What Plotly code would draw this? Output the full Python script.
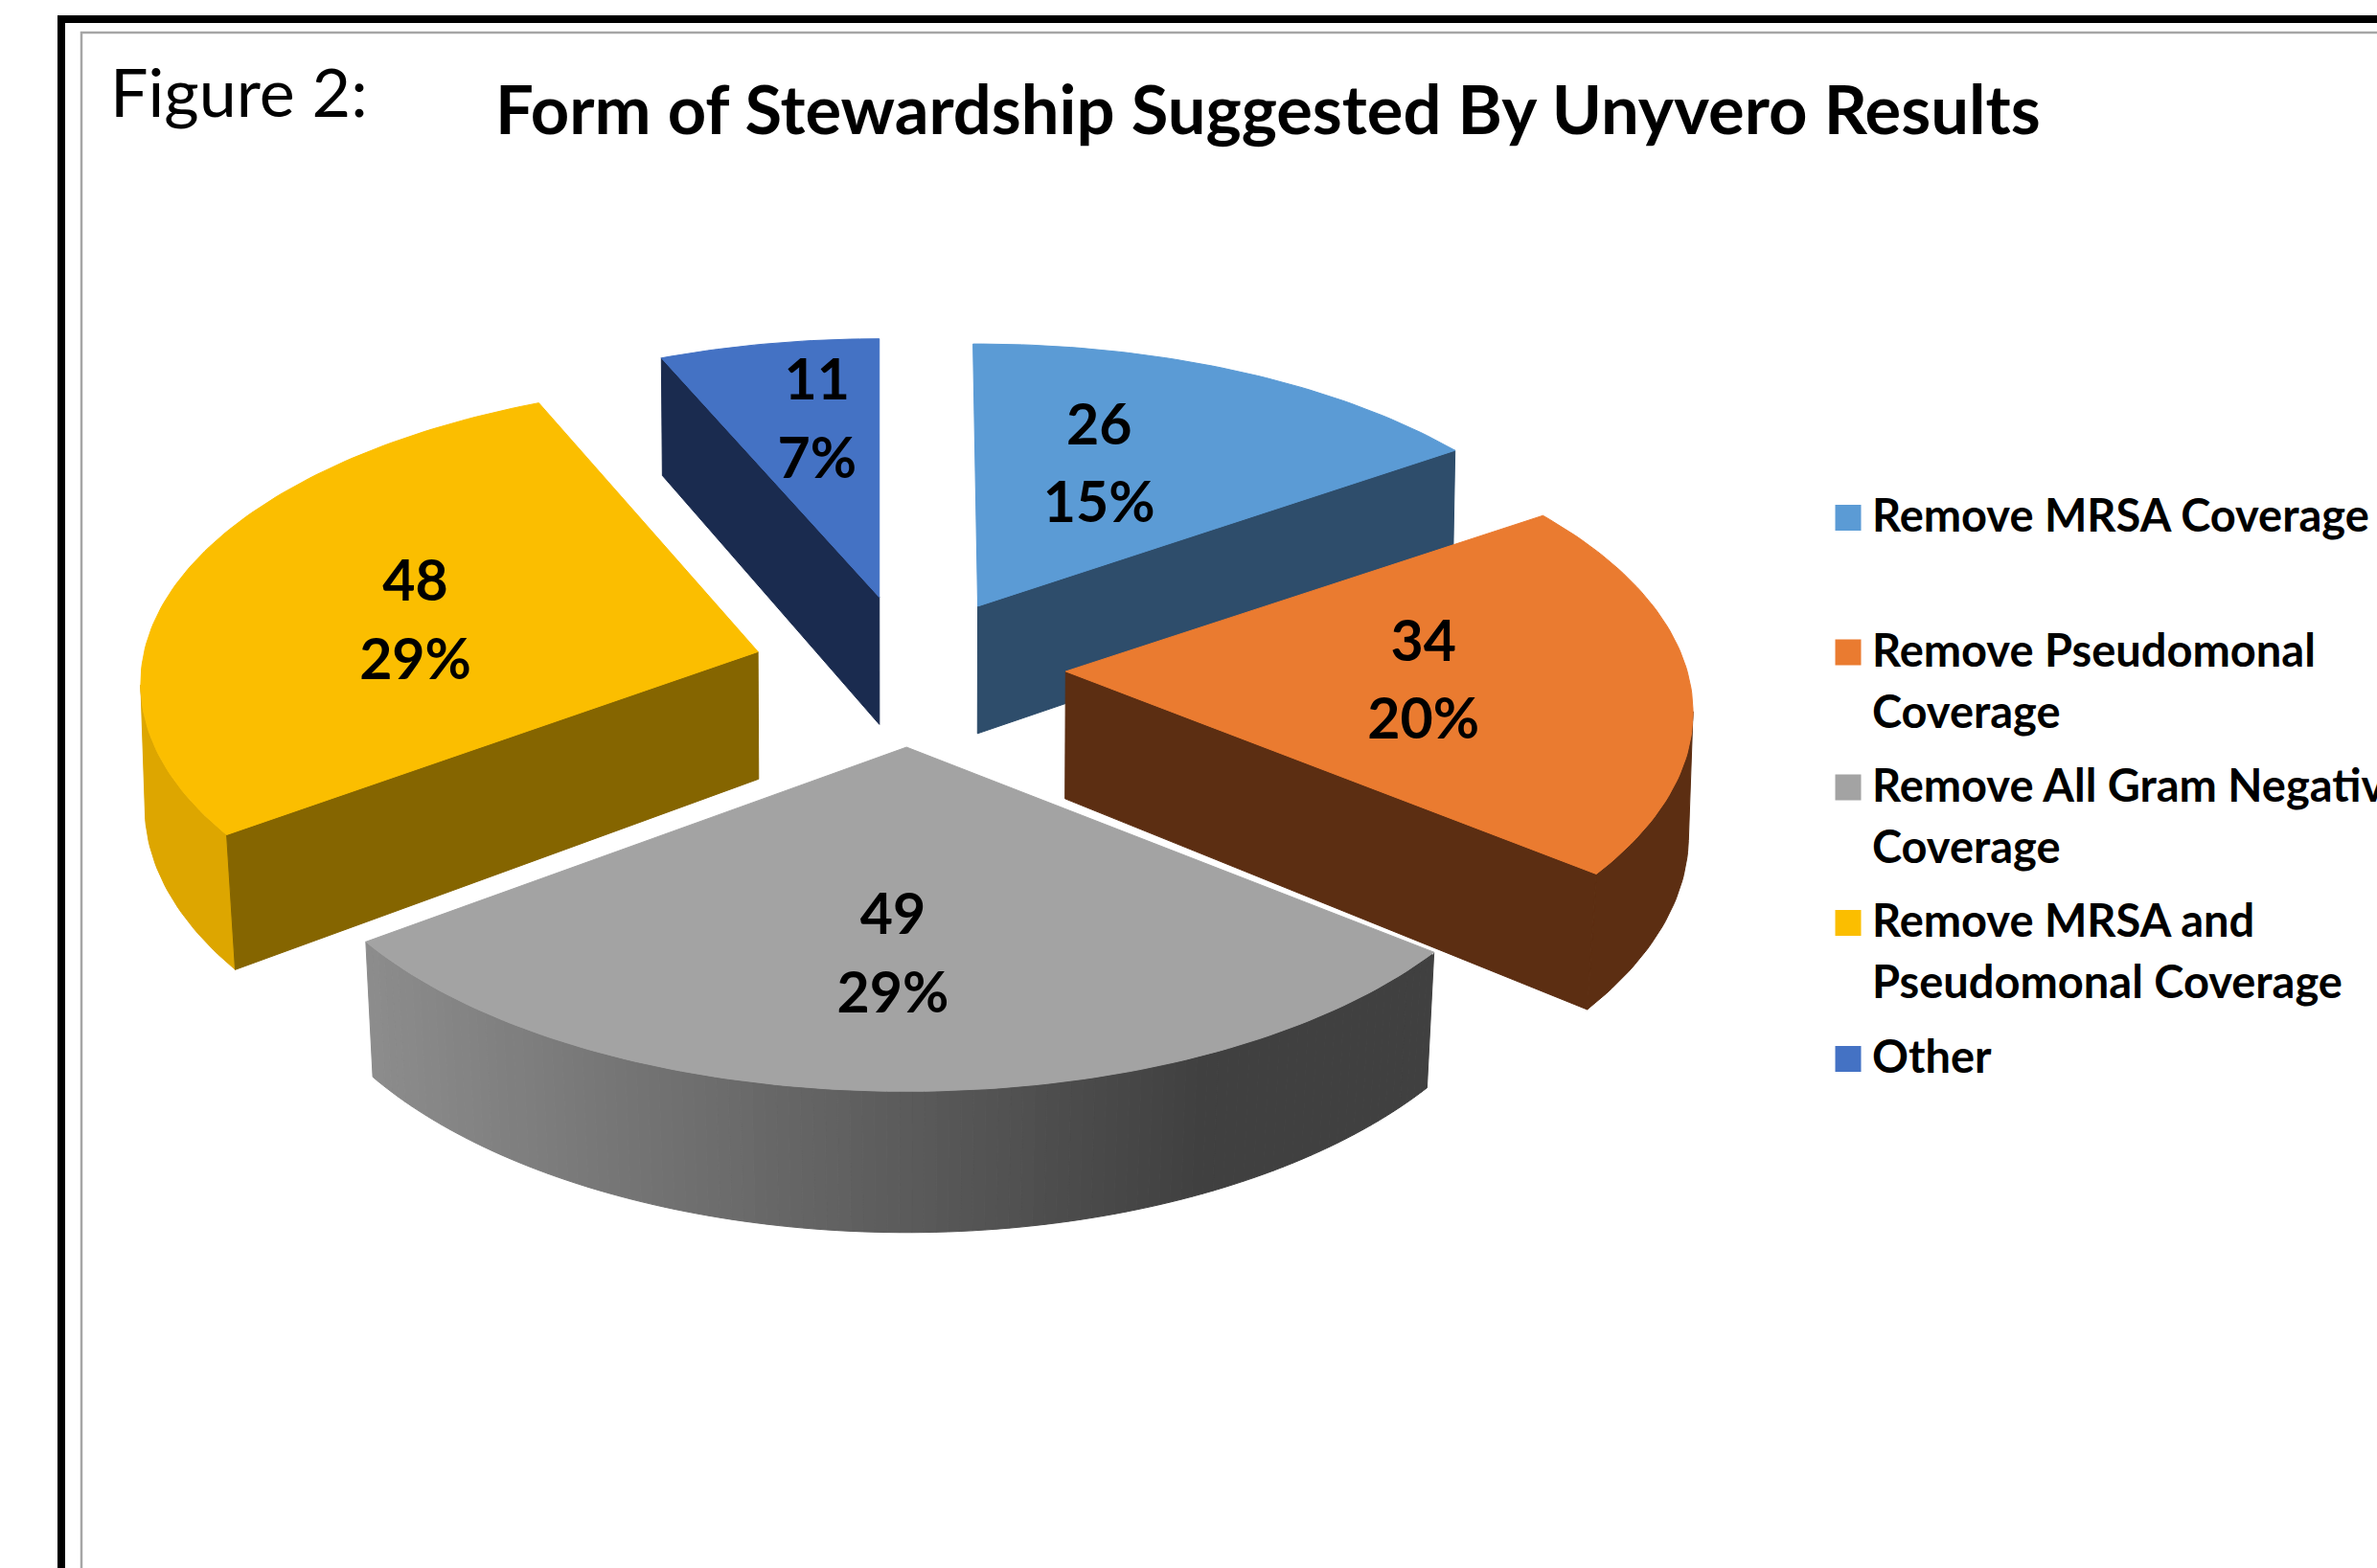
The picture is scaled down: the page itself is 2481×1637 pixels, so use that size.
import math
import plotly.graph_objects as go

# ---- data ----
categories = ["Remove MRSA Coverage", "Remove Pseudomonal Coverage", "Remove All Gram Negative Coverage",
              "Remove MRSA and Pseudomonal Coverage", "Other"]
values = [26, 34, 49, 48, 11]
legend_lines = [["Remove MRSA Coverage"], ["Remove Pseudomonal", "Coverage"],
                ["Remove All Gram Negative", "Coverage"], ["Remove MRSA and", "Pseudomonal Coverage"], ["Other"]]
title_text = "Form of Stewardship Suggested By Unyvero Results"
figure_label = "Figure 2:"

# ---- styles ----
top_colors = ["#5B9BD5", "#EA7B30", "#A3A3A3", "#FBBE00", "#4472C4"]
cut_colors = ["#2E4D6B", "#5C2E12", "#404040", "#856500", "#1A2B4F"]
rim_colors = ["#2E4D6B", "#5C2E12", None, "#DDA600", "#1A2B4F"]

# ---- pie geometry (in 1568-wide reference units) ----
S = 2481 / 1568
CX, CY = 600.0, 441.0
A, B, K, DEPTH = 410.0, 196.4, 0.135, 84.0
explode = [(45, -41), (103, 2), (-2, 52), (-100, -11), (-20, -47)]
# small drawing corrections of each slice, (at its first edge, at its last edge)
slice_turn = [(-0.5, 0), (0, 0), (0.5, -0.5), (0.7, 0.7), (0, 0)]
slice_size = [(1, 1), (1, 1), (1, 1), (0.97, 1.02), (0.985, 0.985)]
label_pos = [(725, 284, 335), (939, 427, 478), (589, 607, 659), (274, 387, 439), (539, 254, 306)]
FS_LABEL, FS_LEG, FS_TITLE, FS_FIG = 59, 47, 70.5, 70

total = sum(values)
bounds = [0.0]
for v in values:
    bounds.append(bounds[-1] + 360.0 * v / total)
percents = [round(100 * v / total) for v in values]


def top(i, th=None):
    ax, ay = CX + explode[i][0], CY + explode[i][1]
    if th is None:
        return ax, ay, 1.0
    f = (th - bounds[i]) / (bounds[i + 1] - bounds[i])
    turn = slice_turn[i][0] + (slice_turn[i][1] - slice_turn[i][0]) * f
    size = slice_size[i][0] + (slice_size[i][1] - slice_size[i][0]) * f
    t = math.radians(th + turn)
    u, v = math.sin(t), -math.cos(t)
    s = 1 / (1 - K * v)
    return ax + A * u * s * size, ay + B * v * s * size, s


def bottom(pt):
    x, y, s = pt
    inward = 0.004 + 0.1 * max(0.0, s - 1)
    return CX + (x - CX) * (1 - inward), y + DEPTH * (1 + (s - 1) * 0.7)


def arc(i, a, b, n=None):
    n = n or max(2, int(abs(b - a) / 1.0))
    return [top(i, a + (b - a) * k / n) for k in range(n + 1)]


def widest_angle(i):
    """Angle at which the slice's rim reaches furthest sideways (silhouette tangent)."""
    ax = top(i)[0]
    best, best_th = -1, bounds[i]
    for p, k in zip(arc(i, bounds[i], bounds[i + 1], 200), range(201)):
        if abs(p[0] - ax) > best:
            best = abs(p[0] - ax)
            best_th = bounds[i] + (bounds[i + 1] - bounds[i]) * k / 200
    return best_th


fig = go.Figure()


def poly(pts, color, name, hover=None):
    fig.add_trace(go.Scatter(
        x=[p[0] * S for p in pts] + [pts[0][0] * S], y=[p[1] * S for p in pts] + [pts[0][1] * S],
        mode="lines", fill="toself", fillcolor=color, line=dict(color=color, width=1),
        name=name, showlegend=False, hoverinfo="text" if hover else "skip", text=hover))


def side_band(i, pts, color):
    low = [bottom(p) for p in pts]
    poly([p[:2] for p in pts] + low[::-1], color, categories[i])


def cut(i, th, color):
    a, r = top(i), top(i, th)
    poly([a[:2], r[:2], bottom(r), bottom(a)], color, categories[i])


def top_face(i):
    pts = [top(i)[:2]] + [p[:2] for p in arc(i, bounds[i], bounds[i + 1])]
    poly(pts, top_colors[i], categories[i], f"{categories[i]}: {values[i]} ({percents[i]}%)")


def grey_at(x):
    f = min(1.0, max(0.0, (x - 245) / (790 - 245)))
    g = round(0x8C + (0x40 - 0x8C) * f)
    return f"rgb({g},{g},{g})"


# back-to-front: Other, MRSA, Yellow, Orange, Grey
cut(4, bounds[4], cut_colors[4])
top_face(4)
cut(0, bounds[1], cut_colors[0])
top_face(0)
side_band(3, arc(3, bounds[3], widest_angle(3)), rim_colors[3])
cut(3, bounds[3], cut_colors[3])
top_face(3)
side_band(1, arc(1, widest_angle(1), bounds[2]), rim_colors[1])
cut(1, bounds[2], cut_colors[1])
top_face(1)
th = bounds[2]
while th < bounds[3] - 1e-6:
    nxt = min(th + 1.0, bounds[3])
    pts = arc(2, th, nxt, 2)
    side_band(2, pts, grey_at(pts[1][0]))
    th = nxt
a, r = top(2), top(2, bounds[2])
fig.add_trace(go.Scatter(x=[a[0] * S, r[0] * S], y=[a[1] * S, r[1] * S], mode="lines",
                         line=dict(color="white", width=5), showlegend=False, hoverinfo="skip"))
top_face(2)

# slice labels
for i, (lx, ly1, ly2) in enumerate(label_pos):
    fig.add_trace(go.Scatter(
        x=[lx * S, lx * S], y=[ly1 * S, ly2 * S], mode="text",
        text=[str(values[i]), f"{percents[i]}%"],
        textposition="middle center", textfont=dict(family="Lato", size=FS_LABEL, color="black", weight=700),
        showlegend=False, hoverinfo="skip", cliponaxis=False))

# legend
leg_marker_y = [540.5, 681, 822, 963.5, 1105.5]
leg_line_gap = 64
LEG_MARK_X, LEG_TEXT_X = 1929, 1954
fig.add_trace(go.Scatter(
    x=[LEG_MARK_X] * len(categories), y=leg_marker_y, mode="markers",
    marker=dict(symbol="square", size=27, color=top_colors, line=dict(width=0)),
    showlegend=False, hoverinfo="text", text=categories))
for lines, my in zip(legend_lines, leg_marker_y):
    fig.add_trace(go.Scatter(
        x=[LEG_TEXT_X] * len(lines), y=[my + 3 + k * leg_line_gap for k in range(len(lines))],
        mode="text", text=lines, textposition="middle right",
        textfont=dict(family="Lato", size=FS_LEG, color="black", weight=700),
        showlegend=False, hoverinfo="skip", cliponaxis=True))

# frames
shapes = [
    dict(type="rect", xref="x", yref="y", x0=60, x1=2600, y0=16, y1=1800,
         line=dict(color="black", width=0), fillcolor="black", layer="below"),
    dict(type="rect", xref="x", yref="y", x0=68, x1=2600, y0=24, y1=1800,
         line=dict(width=0), fillcolor="white", layer="below"),
    dict(type="rect", xref="x", yref="y", x0=85, x1=2650, y0=34, y1=1850,
         line=dict(color="#A6A6A6", width=2.5), fillcolor="white", layer="below"),
]

fig.update_layout(
    width=2481, height=1637, margin=dict(l=0, r=0, t=0, b=0),
    paper_bgcolor="white", plot_bgcolor="white", showlegend=False, shapes=shapes,
    xaxis=dict(range=[0, 2481], visible=False, fixedrange=True),
    yaxis=dict(range=[1637, 0], visible=False, fixedrange=True),
    title=dict(text=title_text, x=517 / 2481, xanchor="left", y=1 - 115 / 1637, yanchor="middle",
               xref="paper", yref="paper",
               font=dict(family="Lato", size=FS_TITLE, color="black", weight=700)),
    annotations=[dict(text=figure_label, xref="x", yref="y", x=113, y=95, xanchor="left", yanchor="middle",
                      showarrow=False, font=dict(family="Lato", size=FS_FIG, color="black"))],
)

fig.write_html("out.html", config={"displayModeBar": False},
               post_script="document.body.style.margin='0';document.body.style.overflow='hidden';")
